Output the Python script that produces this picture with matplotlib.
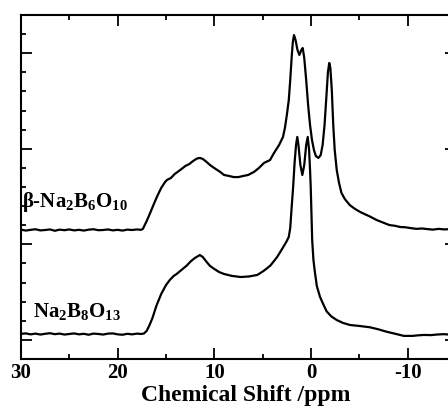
import matplotlib
matplotlib.use("Agg")
import matplotlib.pyplot as plt
from matplotlib.ticker import MultipleLocator, FixedLocator

plt.rcParams["font.family"] = ["Liberation Serif", "DejaVu Serif"]
plt.rcParams["font.weight"] = "bold"
plt.rcParams["axes.unicode_minus"] = False
plt.rcParams["mathtext.fontset"] = "custom"
plt.rcParams["mathtext.rm"] = "Liberation Serif:bold"
plt.rcParams["mathtext.it"] = "Liberation Serif:bold"
plt.rcParams["mathtext.bf"] = "Liberation Serif:bold"

# ===== data: 11B MAS NMR, intensity above each baseline (a.u.) =====
beta_ppm = [30.0, 29.5, 29.0, 28.5, 28.0, 27.5, 27.0, 26.5, 26.0, 25.5, 25.0, 24.5,
            24.0, 23.5, 23.0, 22.5, 22.0, 21.5, 21.0, 20.5, 20.0, 19.5, 19.0, 18.5,
            18.0, 17.6, 17.4, 17.0, 16.6, 16.3, 15.9, 15.5, 15.1, 14.9, 14.5, 14.1,
            13.8, 13.4, 13.0, 12.6, 12.2, 11.8, 11.5, 11.2, 10.8, 10.45, 10.0, 9.4,
            9.0, 8.5, 8.0, 7.5, 7.0, 6.5, 5.9, 5.4, 4.86, 4.24, 3.83, 3.3, 2.9, 2.7,
            2.5, 2.3, 2.15, 2.0, 1.88, 1.76, 1.6, 1.4, 1.21, 1.0, 0.86, 0.7, 0.5, 0.3,
            0.1, -0.1, -0.3, -0.5, -0.76, -1.0, -1.2, -1.4, -1.6, -1.75, -1.89, -2.0,
            -2.15, -2.3, -2.45, -2.66, -2.9, -3.15, -3.5, -4.0, -4.5, -5.1, -5.6, -6.0,
            -6.8, -7.5, -8.1, -8.7, -9.2, -9.8, -10.3, -10.9, -11.5, -12.0, -12.6,
            -13.2, -13.8, -14.4, -15.0]
beta_int = [0.02, -0.03, 0.01, 0.04, -0.02, 0.0, 0.03, -0.04, 0.02, -0.01, 0.03, -0.02,
            0.01, -0.03, 0.02, 0.04, -0.01, 0.0, 0.03, -0.02, 0.01, -0.03, 0.02, 0.0,
            0.03, 0.01, 0.05, 0.47, 0.94, 1.31, 1.78, 2.20, 2.51, 2.62, 2.72, 2.93,
            3.04, 3.19, 3.35, 3.45, 3.61, 3.74, 3.77, 3.72, 3.56, 3.40, 3.24, 3.04,
            2.88, 2.83, 2.77, 2.77, 2.83, 2.88, 3.04, 3.24, 3.51, 3.66, 4.03, 4.45, 4.87, 5.34,
            6.02, 6.80, 7.85, 9.05, 9.84, 10.20, 9.94, 9.42, 9.16, 9.42, 9.52, 9.00, 7.85, 6.54,
            5.49, 4.71, 4.19, 3.87, 3.77, 3.92, 4.45, 5.49, 7.06, 8.27, 8.74, 8.48,
            7.33, 5.49, 4.19, 3.14, 2.46, 1.94, 1.62, 1.31, 1.12, 0.94, 0.82, 0.73,
            0.52, 0.38, 0.26, 0.22, 0.16, 0.14, 0.10, 0.06, 0.08, 0.05, 0.02,
            0.06, 0.03, 0.05, 0.05]

na_ppm = [30.0, 29.5, 29.0, 28.5, 28.0, 27.5, 27.0, 26.5, 26.0, 25.5, 25.0, 24.5,
          24.0, 23.5, 23.0, 22.5, 22.0, 21.5, 21.0, 20.5, 20.0, 19.5, 19.0, 18.5,
          18.0, 17.6, 17.3, 17.0, 16.7, 16.4, 16.0, 15.5, 15.0, 14.6, 14.2, 13.9,
          13.4, 12.9, 12.4, 12.0, 11.5, 11.2, 10.8, 10.45, 10.0, 9.5, 9.0, 8.2, 7.27,
          6.4, 5.55, 4.9, 4.2, 3.5, 2.87, 2.5, 2.3, 2.15, 2.0, 1.85, 1.7, 1.55, 1.42,
          1.3, 1.1, 0.9, 0.7, 0.5, 0.34, 0.2, 0.1, 0.03, -0.05, -0.12, -0.25, -0.4,
          -0.6, -0.93, -1.3, -1.62, -2.1, -2.66, -3.3, -4.03, -5.0, -6.1, -7.0, -7.8,
          -8.8, -9.6, -10.5, -11.1, -11.7, -12.4, -13.0, -13.7, -14.3, -15.0]
na_int = [0.01, 0.03, -0.02, 0.02, -0.03, 0.01, 0.04, -0.01, 0.02, -0.03, 0.0, 0.03,
          -0.02, 0.01, -0.04, 0.02, 0.0, -0.03, 0.02, 0.03, -0.02, -0.04, 0.01, -0.02,
          0.02, 0.0, 0.02, 0.16, 0.47, 0.84, 1.47, 2.09, 2.56, 2.83, 3.04, 3.14,
          3.35, 3.56, 3.82, 3.98, 4.13, 4.03, 3.77, 3.56, 3.40, 3.24, 3.14, 3.04, 2.98,
          3.01, 3.09, 3.30, 3.58, 4.03, 4.55, 4.87, 5.08, 5.55, 6.65, 7.69, 8.95, 9.89, 10.31,
          9.89, 8.84, 8.32, 8.84, 9.89, 10.31, 9.63, 8.58, 7.69, 6.23, 4.92, 3.87, 3.24,
          2.51, 1.94, 1.52, 1.18, 0.92, 0.73, 0.58, 0.47, 0.42, 0.35, 0.24, 0.12,
          0.0, -0.10, -0.10, -0.07, -0.05, -0.06, -0.03, -0.01, -0.03, 0.0]

beta_offset = 6.75
na_offset = 1.31

# ===== figure =====
fig = plt.figure(figsize=(4.48, 4.12), dpi=100)
ax = fig.add_axes([0.0469, 0.1286, 0.971, 0.835])

ax.plot(beta_ppm, [v + beta_offset for v in beta_int], color="black", lw=1.6)
ax.plot(na_ppm, [v + na_offset for v in na_int], color="black", lw=1.6)

ax.set_xlim(30, -15)
ax.set_ylim(0, 18)

ax.xaxis.set_major_locator(FixedLocator([30, 20, 10, 0, -10]))
ax.xaxis.set_minor_locator(MultipleLocator(5))
ax.yaxis.set_major_locator(FixedLocator([1, 6, 11, 16]))
ax.yaxis.set_minor_locator(MultipleLocator(1))
ax.set_yticklabels([])

ax.tick_params(which="both", direction="in", top=True, right=True, width=1.3)
ax.tick_params(which="major", length=8, pad=3, labelsize=15)
ax.tick_params(which="minor", length=3.6)
for s in ax.spines.values():
    s.set_linewidth(1.5)

ax.set_xlabel("Chemical Shift /ppm", fontsize=17, fontweight="bold", labelpad=2)
ax.xaxis.set_label_coords(0.517, -0.075)

ax.text(29.9, 7.95, r"β-Na$_2$B$_6$O$_{10}$", fontsize=15, fontweight="bold",
        ha="left", va="baseline")
ax.text(28.76, 2.2, r"Na$_2$B$_8$O$_{13}$", fontsize=15, fontweight="bold",
        ha="left", va="baseline")

fig.savefig("out.png", dpi=100)
